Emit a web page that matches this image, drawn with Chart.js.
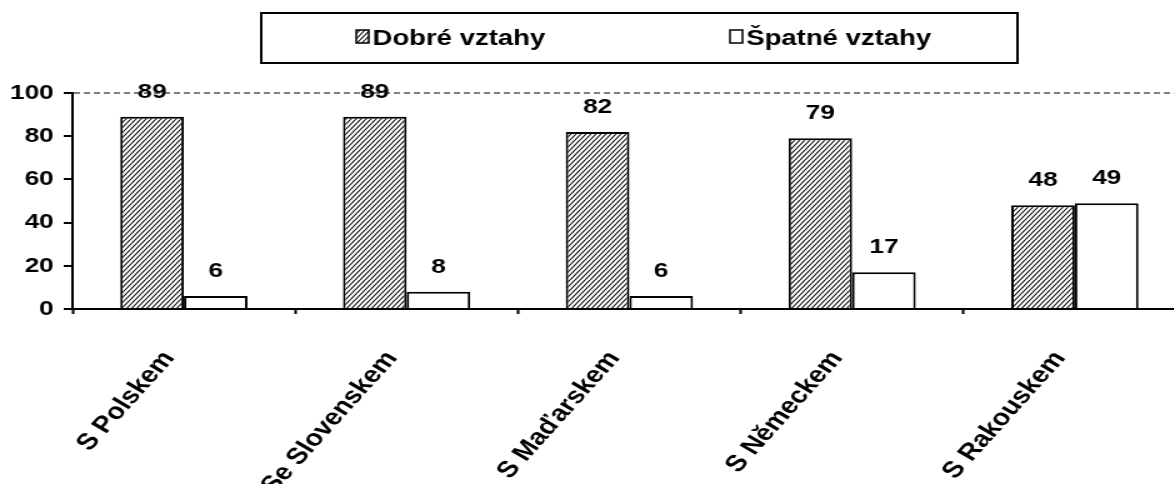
<!DOCTYPE html>
<html>
<head>
<meta charset="utf-8">
<script src="https://cdn.jsdelivr.net/npm/chart.js@4"></script>
<style>
  html, body { margin: 0; padding: 0; background: #fff; overflow: hidden; }
  #chart { display: block; transform: scaleX(1.25); transform-origin: 0 0; }
</style>
</head>
<body>
<canvas id="chart" width="960" height="484"></canvas>
<script>
const categories = ["S Polskem", "Se Slovenskem", "S Maďarskem", "S Německem", "S Rakouskem"];
const goodRelations = [89, 89, 82, 79, 48];
const badRelations = [6, 8, 6, 17, 49];
const seriesNames = ["Dobré vztahy", "Špatné vztahy"];
const yTicks = [0, 20, 40, 60, 80, 100];

const fontFamily = "'Liberation Sans', Arial, Helvetica, sans-serif";

// diagonal "/" hatching, two lines per tile
function makeHatch() {
  const w = 8;
  const h = 10;
  const tile = document.createElement("canvas");
  tile.width = w;
  tile.height = h;
  const c = tile.getContext("2d");
  c.fillStyle = "#fff";
  c.fillRect(0, 0, w, h);
  c.strokeStyle = "#000";
  c.lineWidth = 1.05;
  c.beginPath();
  for (let n = 0; n <= 4; n++) {
    c.moveTo(n * w / 2, 0);
    c.lineTo(n * w / 2 - w, h);
  }
  c.stroke();
  return c.createPattern(tile, "repeat");
}

const hatch = makeHatch();

const valueLabels = {
  id: "valueLabels",
  afterDatasetsDraw(chart) {
    const ctx = chart.ctx;
    ctx.save();
    ctx.fillStyle = "#000";
    ctx.font = `bold 21px ${fontFamily}`;
    ctx.textAlign = "center";
    ctx.textBaseline = "alphabetic";
    chart.data.datasets.forEach((ds, i) => {
      chart.getDatasetMeta(i).data.forEach((bar, j) => {
        ctx.fillText(String(ds.data[j]), bar.x, bar.y - 19);
      });
    });
    ctx.restore();
  }
};

const boxedLegend = {
  id: "boxedLegend",
  afterDraw(chart) {
    const ctx = chart.ctx;
    ctx.save();
    ctx.strokeStyle = "#000";
    ctx.lineWidth = 2;
    ctx.strokeRect(209, 13, 605, 50);
    const markerX = [285, 584];
    ctx.font = `bold 22px ${fontFamily}`;
    ctx.textBaseline = "alphabetic";
    ctx.textAlign = "left";
    chart.data.datasets.forEach((ds, i) => {
      const x = markerX[i];
      ctx.fillStyle = ds.backgroundColor;
      ctx.fillRect(x, 30, 10, 13);
      ctx.lineWidth = 1.5;
      ctx.strokeRect(x, 30, 10, 13);
      ctx.fillStyle = "#000";
      ctx.fillText(ds.label, x + 13, 45);
    });
    ctx.restore();
  }
};

new Chart(document.getElementById("chart"), {
  type: "bar",
  data: {
    labels: categories,
    datasets: [
      {
        label: seriesNames[0],
        data: goodRelations,
        backgroundColor: hatch,
        borderColor: "#000",
        borderWidth: 2
      },
      {
        label: seriesNames[1],
        data: badRelations,
        backgroundColor: "#fff",
        borderColor: "#000",
        borderWidth: 2
      }
    ]
  },
  options: {
    responsive: false,
    animation: false,
    devicePixelRatio: 1,
    layout: { padding: { top: 93, right: 11, left: 0, bottom: 0 } },
    datasets: { bar: { categoryPercentage: 0.571, barPercentage: 1 } },
    plugins: {
      legend: { display: false },
      tooltip: { enabled: false }
    },
    scales: {
      x: {
        afterFit(scale) { scale.height = 175; },
        grid: {
          offset: true,
          drawOnChartArea: false,
          tickColor: "#000",
          tickLength: 5,
          tickWidth: 2
        },
        border: { color: "#000", width: 2 },
        ticks: {
          color: "#000",
          font: { family: fontFamily, size: 23, weight: "bold" },
          minRotation: 54,
          maxRotation: 54,
          padding: 32,
          labelOffset: -12,
          autoSkip: false
        }
      },
      y: {
        min: 0,
        max: 100,
        afterFit(scale) { scale.width = 58; },
        afterBuildTicks(scale) { scale.ticks = yTicks.map((v) => ({ value: v })); },
        grid: {
          color: (c) => (c.tick && c.tick.value === 100 ? "#808080" : "rgba(0,0,0,0)"),
          lineWidth: 2,
          tickColor: "#000",
          tickLength: 7,
          tickWidth: 2
        },
        border: { color: "#000", width: 2, dash: [5, 3] },
        ticks: {
          color: "#000",
          padding: 8,
          font: { family: fontFamily, size: 21, weight: "bold" }
        }
      }
    }
  },
  plugins: [valueLabels, boxedLegend]
});
</script>
</body>
</html>
